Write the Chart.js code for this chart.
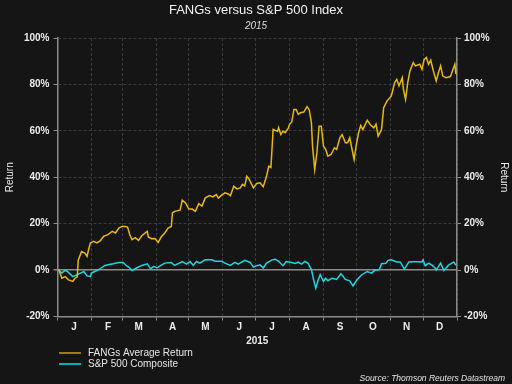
<!DOCTYPE html>
<html>
<head>
<meta charset="utf-8">
<title>FANGs versus S&amp;P 500 Index</title>
<script src="https://cdn.jsdelivr.net/npm/chart.js@4.4.1/dist/chart.umd.min.js"></script>
<style>
  html, body { margin: 0; padding: 0; background: #151515; }
  #wrap { width: 512px; height: 384px; }
</style>
</head>
<body>
<div id="wrap"><canvas id="fangChart" width="512" height="384"></canvas></div>
<script>
// 月份標籤與每月起始日 (年初起算天數)
const monthLabels = ['J', 'F', 'M', 'A', 'M', 'J', 'J', 'A', 'S', 'O', 'N', 'D'];
const monthStarts = [0, 31, 59, 90, 120, 151, 181, 212, 243, 273, 304, 334, 365];
const yTicks = [-20, 0, 20, 40, 60, 80, 100];

// FANGs 平均報酬 (%)
const fangDays = [1, 4, 7, 10, 14, 16, 18, 19, 22, 25, 27, 28, 30, 33, 36, 39, 42, 46, 50, 53,
  56, 59, 62, 64, 66, 68, 71, 74, 77, 82, 83, 86, 89, 92, 95, 98, 101, 104, 105, 107,
  112, 114, 117, 120, 123, 126, 129, 132, 135, 139, 142, 145, 147, 150, 153, 156, 158, 161, 164, 167,
  169, 171, 173, 175, 179, 182, 185, 188, 191, 193, 195, 197, 199, 201, 202, 204, 206, 208, 211, 212,
  214, 216, 218, 220, 222, 225, 228, 230, 232, 233, 235, 237, 239, 241, 243, 245, 247, 250, 253, 255,
  258, 260, 263, 265, 267, 271, 273, 275, 277, 279, 283, 286, 289, 291, 293, 296, 298, 301, 305, 308,
  310, 312, 315, 316, 318, 320, 322, 325, 327, 331, 333, 335, 337, 339, 341, 343, 346, 348, 350, 352,
  355, 359, 363, 364];
const fangReturn = [0.4, -3.5, -2.8, -4.2, -4.9, -3.5, -3.0, 4.4, 8.0, 7.3, 5.9, 8.0, 11.7, 12.4, 11.7, 12.6, 14.5, 15.3, 16.7, 16.0,
  18.1, 18.8, 18.8, 18.5, 15.3, 13.1, 14.0, 12.8, 14.8, 16.7, 14.3, 13.5, 13.6, 11.9, 14.5, 16.0, 18.1, 18.8, 24.6, 25.3,
  25.8, 30.1, 28.9, 26.3, 26.3, 25.3, 28.6, 27.6, 31.1, 32.1, 31.5, 32.5, 31.0, 32.3, 33.3, 32.8, 32.0, 36.1, 35.0, 35.4,
  36.9, 36.2, 40.4, 39.2, 35.4, 37.3, 37.6, 35.9, 40.4, 44.8, 44.2, 60.6, 60.2, 59.8, 61.3, 58.4, 59.9, 59.2, 61.3, 62.8,
  63.8, 69.2, 69.2, 67.1, 67.8, 68.1, 70.4, 69.0, 63.5, 53.4, 43.3, 50.5, 62.0, 62.0, 53.4, 52.0, 49.1, 49.8, 52.7, 52.0,
  57.0, 58.4, 54.9, 54.9, 57.0, 47.6, 54.0, 59.0, 62.3, 60.5, 64.6, 62.5, 61.3, 62.9, 57.7, 60.5, 70.0, 72.8, 75.0, 80.8,
  82.2, 79.4, 82.9, 78.0, 73.6, 80.8, 85.8, 89.4, 88.0, 88.7, 86.5, 90.8, 91.6, 88.7, 90.5, 86.5, 81.5, 85.0, 88.0, 83.6,
  82.9, 83.4, 88.7, 84.4];

// S&P 500 綜合指數報酬 (%)
const spxDays = [1, 4, 7, 10, 14, 18, 21, 24, 27, 30, 31, 34, 37, 40, 43, 46, 51, 56, 60, 63,
  66, 68, 72, 77, 82, 85, 88, 91, 94, 98, 104, 107, 114, 118, 121, 124, 127, 130, 135, 141,
  144, 150, 153, 158, 162, 165, 171, 176, 179, 182, 185, 188, 191, 196, 199, 202, 206, 209, 214, 217,
  220, 223, 226, 229, 232, 234, 236, 238, 240, 243, 245, 247, 251, 255, 259, 263, 267, 270, 273, 276,
  278, 283, 287, 290, 294, 296, 300, 302, 305, 310, 313, 317, 321, 325, 329, 333, 334, 336, 339, 342,
  345, 346, 350, 353, 357, 362, 364];
const spxReturn = [0, -1.3, 0, -1.0, -2.8, -2.0, -1.3, -0.6, -2.5, -2.8, -1.3, -0.6, 0, 0.9, 1.9, 2.3, 2.7, 3.3, 3.3, 1.9,
  0.9, -0.2, 0.9, 2.0, 2.7, 0.5, 1.6, 0.9, 1.9, 3.0, 3.3, 2.0, 3.7, 2.6, 3.7, 2.0, 3.7, 3.0, 4.4, 4.4,
  3.8, 3.8, 3.0, 2.0, 3.3, 2.6, 4.2, 3.3, 1.3, 1.9, 2.3, 0.9, 3.0, 4.4, 4.7, 3.8, 1.9, 3.7, 3.3, 2.9,
  3.4, 2.6, 3.7, 2.9, 0.1, -4.2, -7.8, -4.5, -2.0, -4.9, -3.5, -4.6, -3.5, -4.0, -1.6, -4.0, -4.6, -6.8, -4.6, -3.0,
  -2.0, -0.6, -1.3, 0.0, 0.1, 2.7, 2.9, 4.2, 4.4, 3.5, 3.5, 0.4, 3.5, 3.6, 3.6, 3.5, 4.4, 1.9, 3.0, 2.2,
  0.9, 0, 3.0, -0.2, 2.0, 3.5, 2.0];

const fangColor = '#e8b90c';
const spxColor = '#1fd5df';
const gridColor = '#3a3a3a';
const axisColor = '#8a8a8a';
const textColor = '#ececec';

Chart.defaults.font.family = "'Liberation Sans', Arial, sans-serif";

function toPoints(days, values) {
    return days.map((d, i) => ({ x: d, y: values[i] }));
}

// 底部圖例與資料來源
const legendAndSource = {
    id: 'legendAndSource',
    afterDraw(chart) {
        const ctx = chart.ctx;
        const items = [
            { text: 'FANGs Average Return', color: '#c9a10a', y: 353 },
            { text: 'S&P 500 Composite', color: '#00e6ee', y: 364 }
        ];
        ctx.save();
        items.forEach(item => {
            ctx.strokeStyle = item.color;
            ctx.lineWidth = 1.5;
            ctx.beginPath();
            ctx.moveTo(59, item.y);
            ctx.lineTo(81, item.y);
            ctx.stroke();
            ctx.fillStyle = '#e6e6e6';
            ctx.font = "10px 'Liberation Sans', Arial, sans-serif";
            ctx.textBaseline = 'middle';
            ctx.textAlign = 'left';
            ctx.fillText(item.text, 88, item.y + 0.5);
        });
        ctx.font = "italic 8.5px 'Liberation Sans', Arial, sans-serif";
        ctx.textAlign = 'right';
        ctx.fillStyle = '#e0e0e0';
        ctx.fillText('Source: Thomson Reuters Datastream', 505, 378.5);
        ctx.restore();
    }
};

const isZero = c => c.tick && c.tick.value === 0;

new Chart(document.getElementById('fangChart'), {
    type: 'line',
    data: {
        datasets: [
            {
                label: 'FANGs Average Return',
                data: toPoints(fangDays, fangReturn),
                borderColor: fangColor,
                borderWidth: 1.5,
                pointRadius: 0,
                tension: 0,
                fill: false
            },
            {
                label: 'S&P 500 Composite',
                data: toPoints(spxDays, spxReturn),
                borderColor: spxColor,
                borderWidth: 1.5,
                pointRadius: 0,
                tension: 0,
                fill: false
            }
        ]
    },
    options: {
        responsive: false,
        animation: false,
        devicePixelRatio: 1,
        plugins: {
            legend: { display: false },
            tooltip: { enabled: false },
            title: {
                display: true,
                text: 'FANGs versus S&P 500 Index',
                color: '#f2f2f2',
                font: { size: 13, weight: 'normal' },
                padding: { top: 3, bottom: 2 }
            },
            subtitle: {
                display: true,
                text: '2015',
                color: '#dcdcdc',
                font: { size: 10, style: 'italic' },
                padding: { top: 0, bottom: 5.4 }
            }
        },
        scales: {
            x: {
                type: 'linear',
                min: 0,
                max: 365,
                afterBuildTicks: s => { s.ticks = monthStarts.map(v => ({ value: v })); },
                afterFit: s => { s.height = 67.5; },
                grid: { color: gridColor, tickColor: axisColor, tickLength: 4, tickBorderDash: [] },
                border: { color: axisColor, width: 1.5, dash: [3, 2] },
                ticks: {
                    autoSkip: false,
                    maxRotation: 0,
                    labelOffset: 16.5,
                    padding: 1,
                    color: textColor,
                    font: { size: 10, weight: 'bold' },
                    callback: (v, i) => monthLabels[i] || ''
                },
                title: {
                    display: true,
                    text: '2015',
                    color: textColor,
                    font: { size: 10, weight: 'bold' },
                    padding: { top: 0, bottom: 36.5 }
                }
            },
            y: {
                position: 'left',
                min: -20,
                max: 100,
                afterBuildTicks: s => { s.ticks = yTicks.map(v => ({ value: v })); },
                afterFit: s => { s.width = 57.5; },
                grid: {
                    color: c => isZero(c) ? '#8c8c8c' : gridColor,
                    lineWidth: c => isZero(c) ? 1.5 : 1,
                    tickColor: axisColor,
                    tickLength: 4,
                    tickBorderDash: []
                },
                border: { color: axisColor, width: 1.5, dash: c => isZero(c) ? [] : [3, 2] },
                ticks: {
                    padding: 4,
                    color: textColor,
                    font: { size: 10, weight: 'bold' },
                    callback: v => v + '%'
                },
                title: {
                    display: true,
                    text: 'Return',
                    color: textColor,
                    font: { size: 10 },
                    padding: { top: 4 }
                }
            },
            y2: {
                position: 'right',
                min: -20,
                max: 100,
                afterBuildTicks: s => { s.ticks = yTicks.map(v => ({ value: v })); },
                afterFit: s => { s.width = 55; },
                grid: { drawOnChartArea: false, tickColor: axisColor, tickLength: 4, tickBorderDash: [] },
                border: { color: axisColor, width: 1.5 },
                ticks: {
                    padding: 3,
                    color: textColor,
                    font: { size: 10, weight: 'bold' },
                    callback: v => v + '%'
                },
                title: {
                    display: true,
                    text: 'Return',
                    color: textColor,
                    font: { size: 10 },
                    padding: { top: 2 }
                }
            }
        }
    },
    plugins: [legendAndSource]
});
</script>
</body>
</html>
